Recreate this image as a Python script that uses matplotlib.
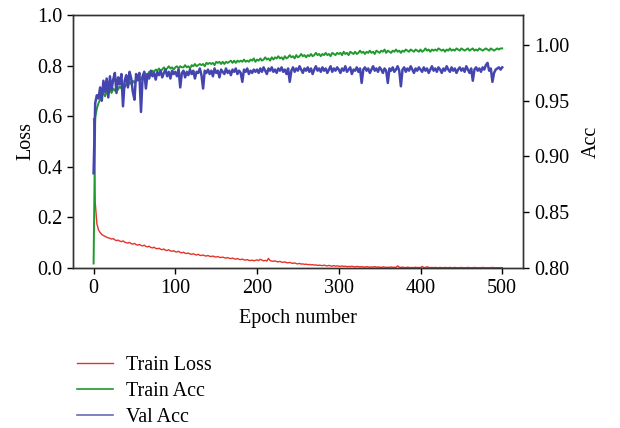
import matplotlib
matplotlib.use("Agg")
import matplotlib.pyplot as plt
from matplotlib.lines import Line2D

plt.rcParams['font.family'] = ['Liberation Serif', 'DejaVu Serif']

epochs = list(range(0, 501, 2))

train_loss = [
    0.590, 0.260, 0.175, 0.150, 0.140, 0.132, 0.128, 0.125, 0.121, 0.119,
    0.117, 0.114, 0.116, 0.111, 0.108, 0.110, 0.106, 0.104, 0.107, 0.102,
    0.100, 0.098, 0.101, 0.096, 0.094, 0.097, 0.092, 0.090, 0.093, 0.089,
    0.087, 0.090, 0.085, 0.083, 0.086, 0.081, 0.079, 0.082, 0.077, 0.076,
    0.078, 0.074, 0.072, 0.075, 0.070, 0.069, 0.072, 0.067, 0.066, 0.068,
    0.064, 0.063, 0.066, 0.061, 0.060, 0.062, 0.058, 0.057, 0.059, 0.055,
    0.054, 0.056, 0.053, 0.051, 0.054, 0.050, 0.049, 0.051, 0.048, 0.047,
    0.049, 0.046, 0.045, 0.047, 0.044, 0.043, 0.045, 0.042, 0.041, 0.043,
    0.040, 0.039, 0.041, 0.038, 0.037, 0.039, 0.036, 0.035, 0.037, 0.034,
    0.033, 0.035, 0.032, 0.031, 0.033, 0.030, 0.029, 0.031, 0.028, 0.030,
    0.032, 0.029, 0.034, 0.031, 0.028, 0.030, 0.027, 0.038, 0.029, 0.027,
    0.026, 0.028, 0.025, 0.024, 0.026, 0.023, 0.022, 0.024, 0.021, 0.020,
    0.022, 0.019, 0.018, 0.020, 0.017, 0.016, 0.018, 0.015, 0.016, 0.014,
    0.015, 0.013, 0.014, 0.012, 0.013, 0.011, 0.012, 0.010, 0.011, 0.010,
    0.009, 0.011, 0.009, 0.008, 0.010, 0.008, 0.007, 0.009, 0.007, 0.008,
    0.007, 0.006, 0.008, 0.006, 0.007, 0.005, 0.006, 0.005, 0.007, 0.005,
    0.004, 0.006, 0.005, 0.004, 0.005, 0.004, 0.003, 0.005, 0.004, 0.003,
    0.004, 0.003, 0.005, 0.003, 0.004, 0.003, 0.002, 0.004, 0.003, 0.002,
    0.003, 0.002, 0.004, 0.002, 0.003, 0.002, 0.008, 0.003, 0.002, 0.003,
    0.002, 0.001, 0.003, 0.002, 0.001, 0.002, 0.001, 0.003, 0.001, 0.002,
    0.001, 0.006, 0.002, 0.001, 0.005, 0.002, 0.001, 0.002, 0.001, 0.002,
    0.001, 0.001, 0.002, 0.001, 0.001, 0.002, 0.001, 0.001, 0.002, 0.001,
    0.001, 0.002, 0.001, 0.001, 0.001, 0.002, 0.001, 0.001, 0.001, 0.002,
    0.001, 0.001, 0.001, 0.002, 0.001, 0.001, 0.001, 0.001, 0.002, 0.001,
    0.001, 0.001, 0.001, 0.001, 0.002, 0.001, 0.001, 0.001, 0.001, 0.001,
    0.001,
]

train_acc = [
    0.804, 0.935, 0.943, 0.948, 0.951, 0.955, 0.957, 0.954, 0.958, 0.956,
    0.960, 0.957, 0.961, 0.959, 0.962, 0.960, 0.963, 0.961, 0.964, 0.962,
    0.965, 0.963, 0.967, 0.965, 0.968, 0.966, 0.969, 0.968, 0.971, 0.969,
    0.972, 0.971, 0.974, 0.972, 0.976, 0.974, 0.977, 0.976, 0.978, 0.977,
    0.979, 0.977, 0.978, 0.980, 0.978, 0.979, 0.981, 0.979, 0.980, 0.978,
    0.980, 0.981, 0.979, 0.981, 0.980, 0.980, 0.982, 0.980, 0.981, 0.979,
    0.982, 0.981, 0.983, 0.981, 0.982, 0.983, 0.982, 0.983, 0.981, 0.984,
    0.983, 0.984, 0.983, 0.984, 0.982, 0.985, 0.984, 0.985, 0.983, 0.985,
    0.983, 0.985, 0.984, 0.985, 0.986, 0.984, 0.986, 0.984, 0.986, 0.985,
    0.986, 0.985, 0.987, 0.985, 0.986, 0.985, 0.987, 0.986, 0.988, 0.985,
    0.987, 0.986, 0.988, 0.986, 0.987, 0.989, 0.987, 0.988, 0.986, 0.989,
    0.987, 0.989, 0.988, 0.990, 0.988, 0.989, 0.987, 0.990, 0.988, 0.989,
    0.991, 0.989, 0.990, 0.988, 0.991, 0.989, 0.990, 0.992, 0.990, 0.991,
    0.989, 0.991, 0.990, 0.992, 0.990, 0.991, 0.993, 0.991, 0.992, 0.990,
    0.992, 0.991, 0.993, 0.991, 0.992, 0.990, 0.993, 0.992, 0.991, 0.993,
    0.992, 0.993, 0.991, 0.994, 0.992, 0.993, 0.991, 0.994, 0.993, 0.992,
    0.994, 0.992, 0.993, 0.995, 0.993, 0.994, 0.992, 0.994, 0.993, 0.995,
    0.993, 0.994, 0.992, 0.995, 0.994, 0.993, 0.995, 0.994, 0.996, 0.993,
    0.995, 0.994, 0.993, 0.995, 0.994, 0.996, 0.994, 0.995, 0.993, 0.995,
    0.994, 0.996, 0.995, 0.994, 0.996, 0.995, 0.994, 0.996, 0.995, 0.994,
    0.996, 0.994, 0.995, 0.997, 0.995, 0.996, 0.994, 0.996, 0.995, 0.996,
    0.995, 0.997, 0.996, 0.995, 0.996, 0.994, 0.996, 0.995, 0.997, 0.995,
    0.996, 0.995, 0.997, 0.996, 0.995, 0.997, 0.996, 0.995, 0.996, 0.997,
    0.995, 0.996, 0.997, 0.995, 0.996, 0.995, 0.997, 0.996, 0.995, 0.996,
    0.997, 0.996, 0.995, 0.997, 0.996, 0.995, 0.996, 0.997, 0.996, 0.997,
    0.997,
]

val_acc = [
    0.885, 0.948, 0.955, 0.952, 0.962, 0.950, 0.968, 0.958, 0.970, 0.953,
    0.972, 0.960, 0.969, 0.975, 0.957, 0.971, 0.965, 0.974, 0.945, 0.968,
    0.973, 0.962, 0.976, 0.970, 0.958, 0.951, 0.974, 0.969, 0.975, 0.940,
    0.972, 0.976, 0.961, 0.974, 0.970, 0.977, 0.972, 0.975, 0.969, 0.976,
    0.973, 0.977, 0.971, 0.975, 0.978, 0.972, 0.976, 0.970, 0.977, 0.974,
    0.976, 0.972, 0.978, 0.962, 0.975, 0.977, 0.971, 0.976, 0.973, 0.978,
    0.974, 0.977, 0.970, 0.976, 0.975, 0.979, 0.973, 0.961, 0.977, 0.975,
    0.978, 0.974, 0.977, 0.972, 0.979, 0.975, 0.977, 0.971, 0.978, 0.976,
    0.974, 0.979, 0.975, 0.977, 0.973, 0.978, 0.976, 0.979, 0.974, 0.977,
    0.975, 0.967, 0.978, 0.976, 0.979, 0.974, 0.977, 0.975, 0.978, 0.976,
    0.978, 0.975, 0.979, 0.976, 0.980, 0.977, 0.974, 0.979, 0.977, 0.980,
    0.976, 0.978, 0.975, 0.979, 0.977, 0.980, 0.976, 0.978, 0.974, 0.979,
    0.967, 0.977, 0.980, 0.976, 0.979, 0.977, 0.981, 0.978, 0.975, 0.979,
    0.977, 0.980, 0.976, 0.979, 0.974, 0.978, 0.981, 0.977, 0.979, 0.976,
    0.980, 0.977, 0.979, 0.975, 0.978, 0.981, 0.976, 0.979, 0.977, 0.980,
    0.978, 0.975, 0.979, 0.977, 0.981, 0.976, 0.978, 0.980, 0.974, 0.978,
    0.977, 0.980, 0.976, 0.979, 0.966, 0.978, 0.980, 0.977, 0.979, 0.975,
    0.978, 0.981, 0.977, 0.979, 0.976, 0.980, 0.978, 0.975, 0.979, 0.977,
    0.966, 0.979, 0.977, 0.980, 0.976, 0.978, 0.981, 0.977, 0.963, 0.978,
    0.980, 0.976, 0.979, 0.977, 0.981, 0.978, 0.975, 0.979, 0.977, 0.980,
    0.978, 0.976, 0.980, 0.977, 0.979, 0.975, 0.978, 0.981, 0.977, 0.979,
    0.976, 0.980, 0.978, 0.975, 0.979, 0.977, 0.981, 0.978, 0.976, 0.980,
    0.977, 0.979, 0.975, 0.978, 0.980, 0.977, 0.979, 0.976, 0.981, 0.978,
    0.975, 0.979, 0.968, 0.978, 0.980, 0.977, 0.979, 0.976, 0.980, 0.978,
    0.982, 0.984, 0.977, 0.979, 0.967, 0.975, 0.978, 0.979, 0.980, 0.978,
    0.980,
]

loss_ticks = [0.0, 0.2, 0.4, 0.6, 0.8, 1.0]
acc_ticks = [0.80, 0.85, 0.90, 0.95, 1.00]
epoch_ticks = [0, 100, 200, 300, 400, 500]

RED = '#e5332a'
GREEN = '#1f9a2e'
BLUE = '#4545b0'

fig = plt.figure(figsize=(6.2, 4.28), dpi=100)
ax = fig.add_axes([0.118, 0.374, 0.725, 0.591])
ax2 = ax.twinx()

ax.plot(epochs, train_loss, color=RED, lw=1.0)
ax2.plot(epochs, train_acc, color=GREEN, lw=1.4)
ax2.plot(epochs, val_acc, color=BLUE, lw=1.8)

ax.set_xlim(-25, 525)
ax.set_ylim(0, 1.0)
ax2.set_ylim(0.80, 1.027)
ax.set_xticks(epoch_ticks)
ax.set_yticks(loss_ticks)
ax.set_yticklabels([f"{t:.1f}" for t in loss_ticks])
ax2.set_yticks(acc_ticks)
ax2.set_yticklabels([f"{t:.2f}" for t in acc_ticks])

fs = 14.5
for a in (ax, ax2):
    a.tick_params(labelsize=fs, length=4, width=1, direction='out', pad=4)
    for s in a.spines.values():
        s.set_linewidth(1.0)
        s.set_color('#333333')
ax.set_xlabel('Epoch number', fontsize=fs, labelpad=8)
ax.set_ylabel('Loss', fontsize=fs, labelpad=1)
ax2.set_ylabel('Acc', fontsize=fs, labelpad=9)

handles = [Line2D([], [], color=RED, lw=1.0),
           Line2D([], [], color=GREEN, lw=1.2),
           Line2D([], [], color='#6a6ab8', lw=1.2)]
fig.legend(handles, ['Train Loss', 'Train Acc', 'Val Acc'], loc='upper left',
           bbox_to_anchor=(0.111, 0.188), frameon=False, fontsize=fs,
           handlelength=1.8, handletextpad=0.65, labelspacing=0.36, borderaxespad=0)

fig.savefig('out.png', dpi=100)
